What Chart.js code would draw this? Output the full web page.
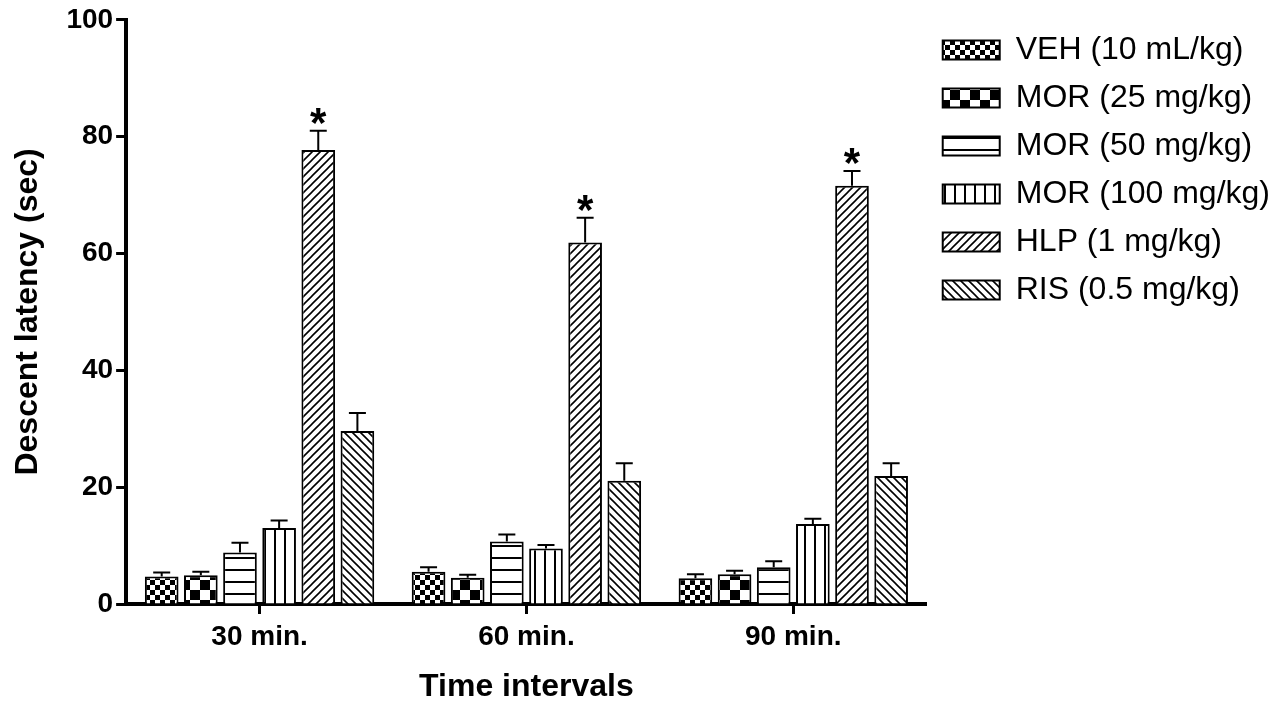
<!DOCTYPE html>
<html lang="en">
<head>
    <meta charset="UTF-8">
    <title>Descent latency</title>
    <script src="https://cdn.jsdelivr.net/npm/chart.js"></script>
    <style>
        body { margin: 0; background: #fff; }
        #wrap { width: 1280px; height: 706px; }
    </style>
</head>
<body>
    <div id="wrap">
        <canvas id="myChart" width="1280" height="706"></canvas>
    </div>

    <script>
        // dati
        const categorie = ['30 min.', '60 min.', '90 min.'];
        const etichette = ['VEH (10 mL/kg)', 'MOR (25 mg/kg)', 'MOR (50 mg/kg)', 'MOR (100 mg/kg)', 'HLP (1 mg/kg)', 'RIS (0.5 mg/kg)'];

        const veh = [4.7, 5.5, 4.4];
        const vehErr = [0.7, 0.8, 0.7];
        const mor25 = [4.9, 4.5, 5.1];
        const mor25Err = [0.6, 0.5, 0.6];
        const mor50 = [8.8, 10.7, 6.3];
        const mor50Err = [1.7, 1.2, 1.0];
        const mor100 = [13.0, 9.5, 13.7];
        const mor100Err = [1.3, 0.6, 0.9];
        const hlp = [77.7, 61.9, 71.6];
        const hlpErr = [3.3, 4.2, 2.5];
        const ris = [29.6, 21.1, 21.9];
        const risErr = [3.1, 3.0, 2.2];

        // asterischi (significatività) per HLP
        const hlpSig = [true, true, true];

        const yTicks = [0, 20, 40, 60, 80, 100];

        const FONT = 'Arial, "Liberation Sans", sans-serif';

        // pattern in bianco e nero come nell'originale
        function creaPattern(tipo) {
            const c = document.createElement('canvas');
            let s = 10;
            if (tipo === 'scacchi2') s = 20;
            if (tipo === 'oriz') s = 12;
            if (tipo === 'diag1' || tipo === 'diag2') s = 8;
            c.width = s; c.height = s;
            const g = c.getContext('2d');
            g.fillStyle = '#fff';
            g.fillRect(0, 0, s, s);
            g.fillStyle = '#000';
            g.strokeStyle = '#000';
            if (tipo === 'scacchi') {
                g.fillRect(0, 0, 5, 5);
                g.fillRect(5, 5, 5, 5);
            } else if (tipo === 'scacchi2') {
                g.fillRect(0, 0, 10, 10);
                g.fillRect(10, 10, 10, 10);
            } else if (tipo === 'oriz') {
                g.fillRect(0, 5, s, 2);
            } else if (tipo === 'vert') {
                g.fillRect(4, 0, 2, s);
            } else if (tipo === 'diag1') {
                g.lineWidth = 1.6;
                g.beginPath();
                g.moveTo(0, s); g.lineTo(s, 0);
                g.moveTo(-2, 2); g.lineTo(2, -2);
                g.moveTo(s - 2, s + 2); g.lineTo(s + 2, s - 2);
                g.stroke();
            } else if (tipo === 'diag2') {
                g.lineWidth = 1.6;
                g.beginPath();
                g.moveTo(0, 0); g.lineTo(s, s);
                g.moveTo(-2, s - 2); g.lineTo(2, s + 2);
                g.moveTo(s - 2, -2); g.lineTo(s + 2, 2);
                g.stroke();
            }
            return g.createPattern(c, 'repeat');
        }

        const valori = [veh, mor25, mor50, mor100, hlp, ris];
        const errori = [vehErr, mor25Err, mor50Err, mor100Err, hlpErr, risErr];
        const tipi = ['scacchi', 'scacchi2', 'oriz', 'vert', 'diag1', 'diag2'];

        const datasets = valori.map((v, i) => ({
            label: etichette[i],
            data: v,
            backgroundColor: creaPattern(tipi[i]),
            borderColor: '#000',
            borderWidth: 2,
            categoryPercentage: 0.88,
            barPercentage: 0.86
        }));

        // barre di errore (solo verso l'alto) e asterischi
        const pluginErrori = {
            id: 'barreErrore',
            afterDatasetsDraw(chart) {
                const ctx = chart.ctx;
                const y = chart.scales.y;
                ctx.save();
                ctx.strokeStyle = '#000';
                ctx.lineWidth = 2;
                chart.data.datasets.forEach((ds, i) => {
                    const meta = chart.getDatasetMeta(i);
                    meta.data.forEach((bar, j) => {
                        const top = y.getPixelForValue(valori[i][j]);
                        const errTop = y.getPixelForValue(valori[i][j] + errori[i][j]);
                        ctx.beginPath();
                        ctx.moveTo(bar.x, top);
                        ctx.lineTo(bar.x, errTop);
                        ctx.moveTo(bar.x - 8.5, errTop);
                        ctx.lineTo(bar.x + 8.5, errTop);
                        ctx.stroke();
                        if (i === 4 && hlpSig[j]) {
                            ctx.fillStyle = '#000';
                            ctx.font = 'bold 42px ' + FONT;
                            ctx.textAlign = 'center';
                            ctx.textBaseline = 'alphabetic';
                            ctx.fillText('*', bar.x, errTop + 6);
                        }
                    });
                });
                ctx.restore();
            }
        };

        const ctx = document.getElementById('myChart').getContext('2d');
        const myChart = new Chart(ctx, {
            type: 'bar',
            data: {
                labels: categorie,
                datasets: datasets
            },
            options: {
                responsive: false,
                animation: false,
                devicePixelRatio: 1,
                layout: {
                    padding: { top: 18, left: 5, bottom: 0, right: 0 }
                },
                plugins: {
                    tooltip: { enabled: false },
                    legend: {
                        position: 'right',
                        align: 'start',
                        maxWidth: 420,
                        labels: {
                            boxWidth: 57,
                            boxHeight: 19,
                            padding: 16,
                            color: '#000',
                            font: { family: FONT, size: 32 }
                        }
                    }
                },
                scales: {
                    x: {
                        grid: {
                            offset: false,
                            drawOnChartArea: false,
                            drawTicks: true,
                            tickLength: 10,
                            tickWidth: 3,
                            tickColor: '#000'
                        },
                        border: { display: true, color: '#000', width: 4 },
                        ticks: {
                            color: '#000',
                            padding: 6,
                            font: { family: FONT, size: 28, weight: 'bold' }
                        },
                        title: {
                            display: true,
                            text: 'Time intervals',
                            color: '#000',
                            padding: { top: 8, bottom: 0 },
                            font: { family: FONT, size: 32, weight: 'bold' }
                        }
                    },
                    y: {
                        min: 0,
                        max: 100,
                        afterBuildTicks(scale) {
                            scale.ticks = yTicks.map(v => ({ value: v }));
                        },
                        grid: {
                            drawOnChartArea: false,
                            drawTicks: true,
                            tickLength: 10,
                            tickWidth: 3,
                            tickColor: '#000'
                        },
                        border: { display: true, color: '#000', width: 4 },
                        ticks: {
                            color: '#000',
                            padding: 3,
                            font: { family: FONT, size: 28, weight: 'bold' }
                        },
                        title: {
                            display: true,
                            text: 'Descent latency (sec)',
                            color: '#000',
                            padding: { top: 4, bottom: 16 },
                            font: { family: FONT, size: 32, weight: 'bold' }
                        }
                    }
                }
            },
            plugins: [pluginErrori]
        });
    </script>
</body>
</html>
